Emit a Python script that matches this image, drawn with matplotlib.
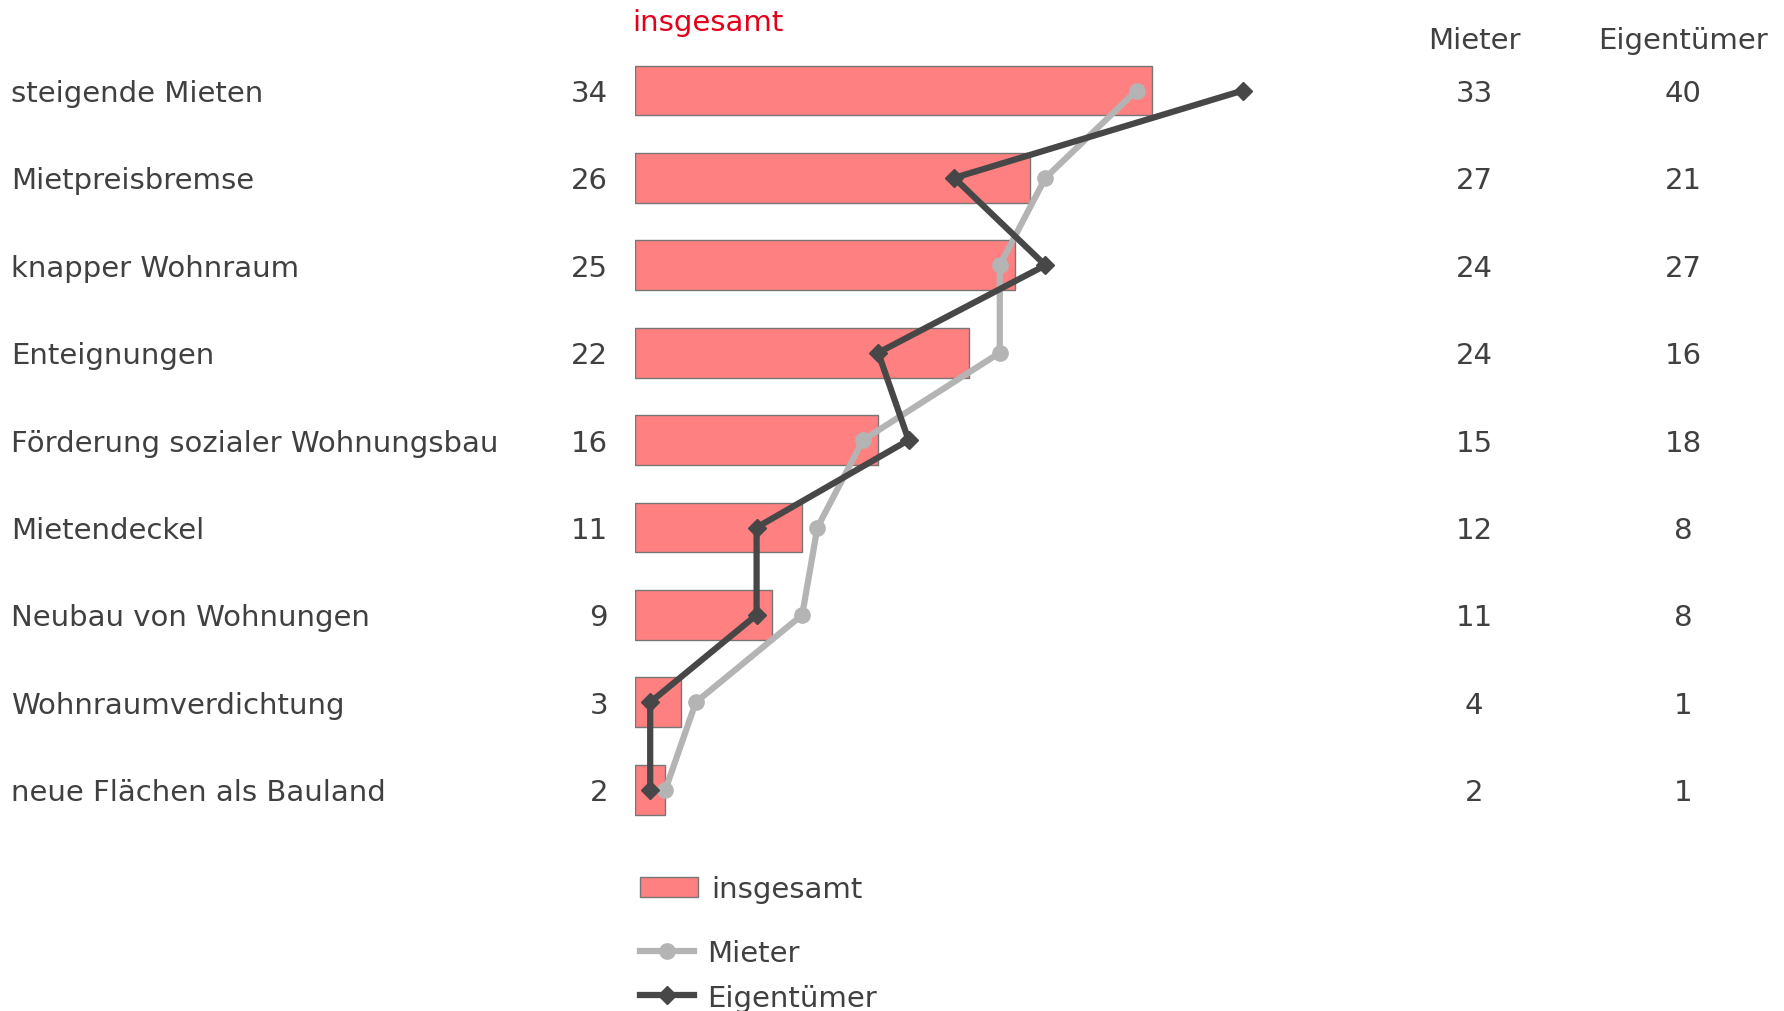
import matplotlib.pyplot as plt
import matplotlib.transforms as mtransforms
from matplotlib.patches import Patch
from matplotlib.lines import Line2D

categories = ["steigende Mieten", "Mietpreisbremse", "knapper Wohnraum", "Enteignungen",
              "Förderung sozialer Wohnungsbau", "Mietendeckel", "Neubau von Wohnungen",
              "Wohnraumverdichtung", "neue Flächen als Bauland"]
insgesamt = [34, 26, 25, 22, 16, 11, 9, 3, 2]
mieter = [33, 27, 24, 24, 15, 12, 11, 4, 2]
eigentuemer = [40, 21, 27, 16, 18, 8, 8, 1, 1]

W, H = 1784, 1012
txt = "#404040"
red = "#E2001A"
fs = 21

fig = plt.figure(figsize=(W / 100, H / 100), dpi=100)
x0 = 635
ppu = 15.2
ax = fig.add_axes([x0 / W, 0, 1 - x0 / W, 1])
ax.set_xlim(0, (W - x0) / ppu)
y_first, step = 91.5, 87.4
ax.set_ylim((H - y_first) / step, -y_first / step)
ax.axis("off")

pos = list(range(len(categories)))
ax.barh(pos, insgesamt, height=0.57, color="#FF8080", edgecolor="#767676", linewidth=1, zorder=1)
ax.plot(mieter, pos, color="#B4B4B4", lw=4.5, marker="o", ms=11, zorder=2)
ax.plot(eigentuemer, pos, color="#474747", lw=4.5, marker="D", ms=9, zorder=3)

# row labels: x in figure coords, y in data rows, nudged down a little
tr = mtransforms.blended_transform_factory(fig.transFigure, ax.transData)
tr = tr + mtransforms.ScaledTranslation(0, -2.5 / 100, fig.dpi_scale_trans)
for i, cat in enumerate(categories):
    fig.text(11 / W, i, cat, transform=tr, ha="left", va="center", fontsize=fs, color=txt)
    fig.text(608 / W, i, str(insgesamt[i]), transform=tr, ha="right", va="center", fontsize=fs, color=txt)
    fig.text(1474 / W, i, str(mieter[i]), transform=tr, ha="center", va="center", fontsize=fs, color=txt)
    fig.text(1683 / W, i, str(eigentuemer[i]), transform=tr, ha="center", va="center", fontsize=fs, color=txt)

fig.text(1474 / W, 1 - 41 / H, "Mieter", ha="center", va="center", fontsize=fs, color=txt)
fig.text(1683 / W, 1 - 41 / H, "Eigentümer", ha="center", va="center", fontsize=fs, color=txt)
fig.text(632 / W, 1 - 23 / H, "insgesamt", ha="left", va="center", fontsize=fs, color=red)

leg1 = fig.legend(handles=[Patch(facecolor="#FF8080", edgecolor="#767676", lw=1)], labels=["insgesamt"],
                  loc="upper left", bbox_to_anchor=(640 / W, 1 - 876 / H), frameon=False,
                  fontsize=fs, handlelength=2.0, handleheight=0.7, handletextpad=0.45,
                  borderpad=0, borderaxespad=0, labelcolor=txt)
leg2 = fig.legend(handles=[Line2D([], [], color="#B4B4B4", lw=4.5, marker="o", ms=11),
                           Line2D([], [], color="#474747", lw=4.5, marker="D", ms=9)],
                  labels=["Mieter", "Eigentümer"],
                  loc="upper left", bbox_to_anchor=(640 / W, 1 - 940 / H), frameon=False,
                  fontsize=fs, handlelength=1.85, handletextpad=0.45, labelspacing=0.57,
                  borderpad=0, borderaxespad=0, labelcolor=txt)

fig.savefig("out.png", dpi=100)
